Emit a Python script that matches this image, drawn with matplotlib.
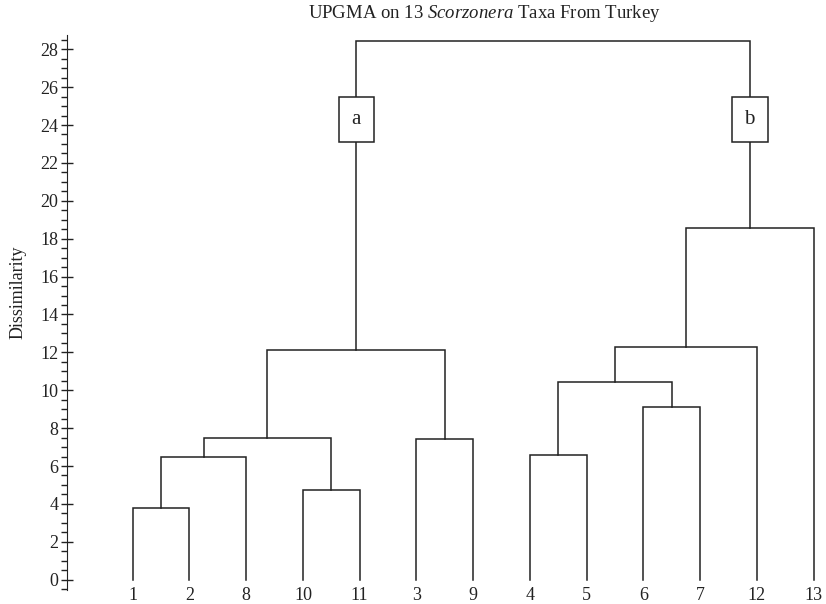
import matplotlib
matplotlib.use("Agg")
import matplotlib.pyplot as plt
from matplotlib.ticker import MultipleLocator

# Hojas en el orden del dendrograma
leaf_labels = ["1", "2", "8", "10", "11", "3", "9", "4", "5", "6", "7", "12", "13"]

# Uniones: (nodo izquierdo, nodo derecho, altura). Nodos 0..12 = hojas, 13.. = clusters
merge_left = [0, 13, 3, 14, 5, 16, 7, 9, 19, 21, 22, 18]
merge_right = [1, 2, 4, 15, 6, 17, 8, 10, 20, 11, 12, 23]
merge_height = [3.8, 6.45, 4.75, 7.5, 7.45, 12.15, 6.6, 9.1, 10.45, 12.3, 18.55, 28.45]

# Etiquetas de los dos grupos principales
group_nodes = [18, 23]
group_labels = ["a", "b"]
group_y = 24.3

plt.rcParams["font.family"] = ["Liberation Serif", "DejaVu Serif"]
plt.rcParams["mathtext.fontset"] = "custom"
plt.rcParams["mathtext.it"] = "Liberation Serif:italic"
plt.rcParams["mathtext.rm"] = "Liberation Serif"

fig = plt.figure(figsize=(8.26, 6.04), dpi=100)
ax = fig.add_axes([0.081, 0.023, 0.919, 0.919])

pos = {i: float(i) for i in range(len(leaf_labels))}
hgt = {i: 0.0 for i in range(len(leaf_labels))}
for k, (l, r, h) in enumerate(zip(merge_left, merge_right, merge_height)):
    node = len(leaf_labels) + k
    xl, xr = pos[l], pos[r]
    ax.plot([xl, xl, xr, xr], [hgt[l], h, h, hgt[r]], color="#222222", lw=1.1,
            solid_joinstyle="miter")
    pos[node] = (xl + xr) / 2
    hgt[node] = h

for node, lab in zip(group_nodes, group_labels):
    ax.text(pos[node], group_y, lab, ha="center", va="center", fontsize=15,
            color="#222222",
            bbox=dict(boxstyle="square,pad=0.62", fc="white", ec="#222222", lw=1.1))

ax.set_xlim(-1.16, 12.22)
ax.set_ylim(-0.55, 28.75)
ax.set_xticks(range(len(leaf_labels)))
ax.set_xticklabels(leaf_labels, fontsize=13, color="#222222")
ax.tick_params(axis="x", length=0, pad=-2)

ax.yaxis.set_major_locator(MultipleLocator(2))
ax.yaxis.set_minor_locator(MultipleLocator(0.5))
ax.tick_params(axis="y", which="major", direction="inout", length=8, width=1,
               labelsize=13, colors="#222222", pad=2)
ax.tick_params(axis="y", which="minor", direction="out", length=4, width=1,
               colors="#222222")

for s in ["top", "right", "bottom"]:
    ax.spines[s].set_visible(False)
ax.spines["left"].set_color("#222222")

ax.set_ylabel("Dissimilarity", fontsize=13, color="#222222")
ax.yaxis.set_label_coords(-0.053, 0.537)

fig.text(0.586, 0.977, "UPGMA on 13 $\\it{Scorzonera}$ Taxa From Turkey",
         ha="center", va="center", fontsize=13.5, color="#222222")

fig.savefig("out.png", dpi=100)
